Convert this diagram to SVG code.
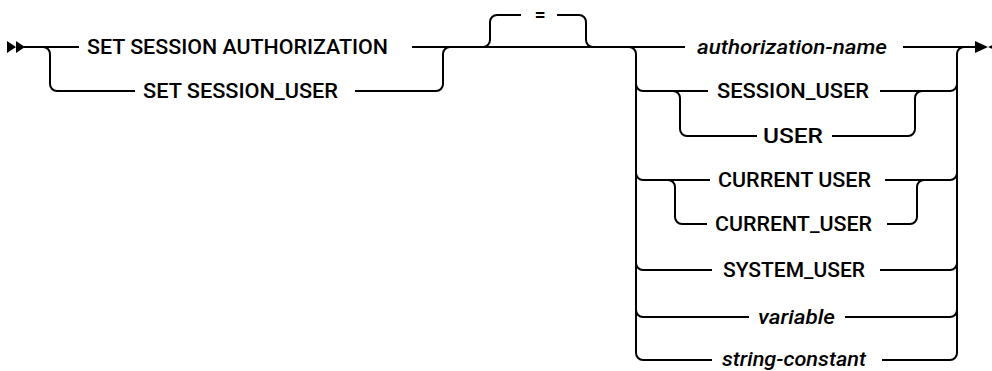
<svg xmlns="http://www.w3.org/2000/svg" width="992" height="371" viewBox="0 0 992 371">
<style>
.ln{fill:none;stroke:#000;stroke-width:2}
.ar{fill:#000;stroke:none}
.t{font-family:Roboto,"Liberation Sans",Arial,sans-serif;font-weight:500;font-size:20px;fill:#000;text-anchor:middle}
.i{font-style:italic}
</style>
<g id="connectors">
<path class="ar" d="M7,41 L16,47 L7,53 Z M16,41 L25,47 L16,53 Z"/>
<path class="ln" d="M24,47 H79"/>
<path class="ln" d="M43,47 a7,7 0 0 1 7,7 V84 a7,7 0 0 0 7,7 H135"/>
<path class="ln" d="M355,91 H436 a7,7 0 0 0 7,-7 V54 a7,7 0 0 1 7,-7"/>
<path class="ln" d="M412,47 H685"/>
<path class="ln" d="M483,47 a7,7 0 0 0 7,-7 V22 a7,7 0 0 1 7,-7 H521"/>
<path class="ln" d="M557,15 H579 a7,7 0 0 1 7,7 V40 a7,7 0 0 0 7,7"/>
<path class="ln" d="M629,47 a7,7 0 0 1 7,7 V353 a7,7 0 0 0 7,7 H712"/>
<path class="ln" d="M636,84 a7,7 0 0 0 7,7 H708"/>
<path class="ln" d="M636,173 a7,7 0 0 0 7,7 H710"/>
<path class="ln" d="M636,263 a7,7 0 0 0 7,7 H712"/>
<path class="ln" d="M636,310 a7,7 0 0 0 7,7 H749"/>
<path class="ln" d="M673,91 a7,7 0 0 1 7,7 V129 a7,7 0 0 0 7,7 H757"/>
<path class="ln" d="M832,136 H908 a7,7 0 0 0 7,-7 V98 a7,7 0 0 1 7,-7"/>
<path class="ln" d="M668,180 a7,7 0 0 1 7,7 V217 a7,7 0 0 0 7,7 H707"/>
<path class="ln" d="M887,224 H910 a7,7 0 0 0 7,-7 V187 a7,7 0 0 1 7,-7"/>
<path class="ln" d="M903,47 H976"/>
<path class="ln" d="M880,91 H950 a7,7 0 0 0 7,-7"/>
<path class="ln" d="M885,180 H950 a7,7 0 0 0 7,-7"/>
<path class="ln" d="M880,270 H950 a7,7 0 0 0 7,-7"/>
<path class="ln" d="M845,317 H950 a7,7 0 0 0 7,-7"/>
<path class="ln" d="M882,360 H950 a7,7 0 0 0 7,-7 V54 a7,7 0 0 1 7,-7"/>
<path class="ar" d="M975,41 L988,47 L975,53 Z M1001,41 L988,47 L1001,53 Z"/>
</g>
<g id="n-set-session-authorization"><text class="t" x="237.5" y="54" textLength="301" lengthAdjust="spacingAndGlyphs">SET SESSION AUTHORIZATION</text></g>
<g id="n-set-session-user"><text class="t" x="240.5" y="98" textLength="195" lengthAdjust="spacingAndGlyphs">SET SESSION_USER</text></g>
<g id="n-equals"><text class="t" x="540" y="22">=</text></g>
<g id="n-authorization-name"><text class="t i" x="792" y="54" textLength="190" lengthAdjust="spacingAndGlyphs">authorization-name</text></g>
<g id="n-session-user"><text class="t" x="793" y="98" textLength="152" lengthAdjust="spacingAndGlyphs">SESSION_USER</text></g>
<g id="n-user"><text class="t" x="793" y="143" textLength="60" lengthAdjust="spacingAndGlyphs">USER</text></g>
<g id="n-current-user-space"><text class="t" x="794.5" y="187" textLength="153" lengthAdjust="spacingAndGlyphs">CURRENT USER</text></g>
<g id="n-current-user"><text class="t" x="793.5" y="231" textLength="157" lengthAdjust="spacingAndGlyphs">CURRENT_USER</text></g>
<g id="n-system-user"><text class="t" x="794" y="277" textLength="142" lengthAdjust="spacingAndGlyphs">SYSTEM_USER</text></g>
<g id="n-variable"><text class="t i" x="796.5" y="324" textLength="77" lengthAdjust="spacingAndGlyphs">variable</text></g>
<g id="n-string-constant"><text class="t i" x="794" y="366" textLength="144" lengthAdjust="spacingAndGlyphs">string-constant</text></g>
</svg>
